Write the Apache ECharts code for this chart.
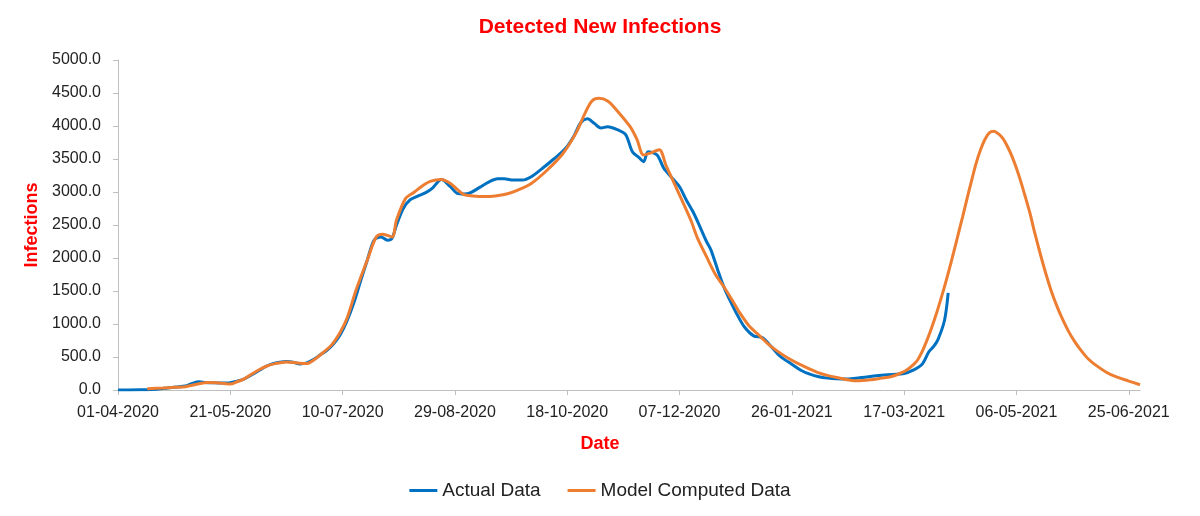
<!DOCTYPE html>
<html>
<head>
<meta charset="utf-8">
<script src="https://cdn.jsdelivr.net/npm/echarts@6/dist/echarts.min.js"></script>
<style>
html,body{margin:0;padding:0;background:#fff;}
#chart{width:1200px;height:516px;}
</style>
</head>
<body>
<div id="chart"></div>
<script>
// Day offsets counted from START_DATE (01-04-2020)
const START_DATE = '2020-04-01';
const xTickDays = [0, 50, 100, 150, 200, 250, 300, 350, 400, 450];
const yTicks = [0, 500, 1000, 1500, 2000, 2500, 3000, 3500, 4000, 4500, 5000];

const actualDays = [0,5,10,13,18,22,26,30,33,36,39,42,46,50,53,56,60,63,66,69,72,75,78,81,84,87,90,93,96,99,102,105,108,111,114,117,120,122,124,127,130,133,137,140,144,148,151,154,157,161,165,169,172,176,180,184,189,194,199,203,206,209,212,215,218,222,226,229,232,234,236,240,243,247,250,253,256,259,262,264,267,270,273,276,279,283,287,291,295,300,304,308,312,316,320,325,330,335,340,345,350,354,358,361,363,365,368,369.6];
const actualValues = [0,0,2,5,15,30,45,60,100,125,115,110,105,110,135,165,240,300,360,400,420,430,420,395,410,460,530,600,700,840,1050,1320,1650,1970,2270,2320,2270,2300,2500,2750,2880,2930,2990,3060,3190,3080,2980,2970,2990,3070,3150,3200,3200,3180,3180,3230,3360,3500,3650,3850,4050,4110,4040,3970,3990,3950,3870,3610,3520,3460,3610,3560,3360,3200,3080,2880,2700,2480,2250,2120,1820,1540,1320,1120,950,820,790,650,505,390,300,240,200,180,170,167,185,205,225,235,250,300,390,580,655,760,1060,1470];

const modelDays = [13,20,25,30,36,40,44,48,50,53,56,60,63,66,70,75,80,84,87,90,95,99,102,106,111,115,118,122,124,128,132,135,139,144,148,151,154,158,163,168,173,178,184,191,198,204,208,211,214,218,222,228,231,234,237,241,244,247,251,255,258,262,266,270,274,277,281,286,290,295,300,304,312,320,329,335,340,344,348,351,354,356,358,360,362,364,366,368,370,372,374,376,378,380,382,384,386,388,390,392,394,396,398,400,402,404,406,408,410,412,414,416,418,420,423,426,429,432,435,440,444,450,455];
const modelValues = [20,30,40,50,95,115,110,95,90,125,165,250,310,360,400,425,410,400,450,530,680,880,1090,1515,1970,2320,2360,2320,2575,2900,3000,3080,3160,3190,3130,3040,2960,2940,2930,2940,2970,3030,3130,3330,3580,3900,4200,4380,4420,4380,4240,3990,3800,3560,3590,3640,3400,3180,2880,2575,2300,2020,1750,1550,1330,1160,970,810,680,555,450,380,260,190,140,155,180,200,250,300,380,455,580,740,920,1120,1340,1570,1820,2080,2350,2620,2900,3170,3430,3640,3800,3900,3920,3880,3810,3690,3540,3360,3150,2920,2680,2400,2140,1890,1660,1450,1270,1110,900,730,590,470,385,270,205,135,80];

const DAY_MS = 86400000;
const startMs = Date.parse(START_DATE + 'T00:00:00Z');
function dayLabel(d) {
  const t = new Date(startMs + Math.round(d) * DAY_MS);
  const dd = String(t.getUTCDate()).padStart(2, '0');
  const mm = String(t.getUTCMonth() + 1).padStart(2, '0');
  return dd + '-' + mm + '-' + t.getUTCFullYear();
}
const actualData = actualDays.map((d, i) => [d, actualValues[i]]);
const modelData = modelDays.map((d, i) => [d, modelValues[i]]);

const FONT = '"Liberation Sans", Arial, sans-serif';
const chart = echarts.init(document.getElementById('chart'), null, {renderer: 'canvas'});
chart.setOption({
  animation: false,
  backgroundColor: '#ffffff',
  textStyle: {fontFamily: FONT},
  title: [
    {text: 'Detected New Infections', left: 'center', top: 12,
     textStyle: {color: '#ff0000', fontWeight: 'bold', fontSize: 21, fontFamily: FONT}},
    {text: 'Date', left: 'center', top: 430,
     textStyle: {color: '#ff0000', fontWeight: 'bold', fontSize: 18, fontFamily: FONT}}
  ],
  legend: {
    bottom: 11, left: 'center', itemGap: 27, itemWidth: 28, itemHeight: 3,
    textStyle: {fontSize: 19, color: '#222', fontFamily: FONT},
    data: [{name: 'Actual Data', icon: 'rect'}, {name: 'Model Computed Data', icon: 'rect'}]
  },
  grid: {left: 118, right: 60, top: 60, bottom: 126, containLabel: false},
  xAxis: {
    type: 'value', min: 0, max: 455, interval: 50,
    axisLine: {show: true, lineStyle: {color: '#bfbfbf', width: 1}},
    axisTick: {show: true, length: 5, lineStyle: {color: '#bfbfbf'}, customValues: xTickDays},
    axisLabel: {customValues: xTickDays, formatter: v => dayLabel(v), fontSize: 16, color: '#222', margin: 15, fontFamily: FONT},
    splitLine: {show: false}
  },
  yAxis: {
    type: 'value', min: 0, max: 5000, interval: 500,
    name: 'Infections', nameLocation: 'middle', nameGap: 77, nameRotate: 90,
    nameTextStyle: {color: '#ff0000', fontWeight: 'bold', fontSize: 18, fontFamily: FONT},
    axisLine: {show: true, lineStyle: {color: '#bfbfbf', width: 1}},
    axisTick: {show: true, length: 5, lineStyle: {color: '#bfbfbf'}, customValues: yTicks},
    axisLabel: {formatter: v => v.toFixed(1), fontSize: 16, color: '#222', margin: 17, fontFamily: FONT},
    splitLine: {show: false}
  },
  series: [
    {name: 'Actual Data', type: 'line', data: actualData, showSymbol: false, smooth: 0.3,
     color: '#0070c0', lineStyle: {color: '#0070c0', width: 3}, z: 2},
    {name: 'Model Computed Data', type: 'line', data: modelData, showSymbol: false, smooth: 0.3,
     color: '#ed7d31', lineStyle: {color: '#ed7d31', width: 3}, z: 3}
  ]
});
</script>
</body>
</html>
